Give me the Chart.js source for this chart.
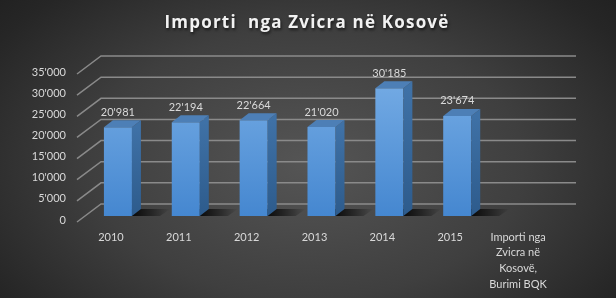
<!DOCTYPE html>
<html><head><meta charset="utf-8">
<script src="https://cdn.jsdelivr.net/npm/chart.js@4/dist/chart.umd.min.js"></script>
<style>
html,body{margin:0;padding:0;background:#222;}
#wrap{width:616px;height:298px;position:relative;overflow:hidden;
background:radial-gradient(ellipse 70% 90% at 50% 55%, #555555 0%, #3f3f3f 50%, #262626 85%, #1f1f1f 100%);}
canvas{display:block}
</style></head><body>
<div id="wrap"><canvas id="c" width="616" height="298"></canvas></div>
<script>
// ---- data ----
const categories = ['2010', '2011', '2012', '2013', '2014', '2015', ['Importi nga', 'Zvicra në', 'Kosovë,', 'Burimi BQK']];
const importValues = [20981, 22194, 22664, 21020, 30185, 23674, null];
const yMin = 0;
const yMax = 35000;
const yStep = 5000;
const titleText = 'Importi  nga Zvicra në Kosovë';

// ---- helpers ----
function fmt(v) { return String(v).replace(/\B(?=(\d{3})+(?!\d))/g, "'"); }

const DX = 9, DY = 7;           // bar depth
const GX1 = -7, GY1 = 6;        // front end of floor diagonal
const GX2 = 17, GY2 = -12;      // back wall offset

const titlePlugin = {
  id: 'titleSpaced',
  afterDraw(chart) {
    const ctx = chart.ctx;
    ctx.save();
    ctx.font = 'bold 17px "Open Sans"';
    ctx.letterSpacing = '1.2px';
    ctx.textAlign = 'center';
    ctx.textBaseline = 'middle';
    ctx.shadowColor = 'rgba(0,0,0,0.6)';
    ctx.shadowBlur = 3;
    ctx.shadowOffsetX = 1;
    ctx.shadowOffsetY = 2;
    ctx.fillStyle = '#f2f2f2';
    ctx.fillText(titleText, 307, 23);
    ctx.restore();
  }
};

const grid3d = {
  id: 'grid3d',
  beforeDatasetsDraw(chart) {
    const ctx = chart.ctx, a = chart.chartArea, ys = chart.scales.y;
    ctx.save();
    ctx.strokeStyle = '#8a8a8a';
    ctx.lineWidth = 1.5;
    ys.ticks.forEach(t => {
      const py = ys.getPixelForValue(t.value);
      ctx.beginPath();
      ctx.moveTo(a.left + GX1, py + GY1);
      ctx.lineTo(a.left + GX2, py + GY2);
      ctx.lineTo(a.right + GX2, py + GY2);
      ctx.stroke();
    });
    // floor shadows
    const meta = chart.getDatasetMeta(0);
    meta.data.forEach((bar, i) => {
      if (importValues[i] == null) return;
      const p = bar.getProps(['x', 'y', 'base', 'width'], true);
      const x1 = p.x - p.width / 2, x2 = p.x + p.width / 2, b = p.base;
      const g = ctx.createLinearGradient(x2, 0, x2 + 38, 0);
      g.addColorStop(0, 'rgba(0,0,0,0.85)');
      g.addColorStop(0.5, 'rgba(0,0,0,0.45)');
      g.addColorStop(1, 'rgba(0,0,0,0)');
      ctx.fillStyle = g;
      ctx.beginPath();
      ctx.moveTo(x1 + 2, b);
      ctx.lineTo(x2 + 28, b);
      ctx.lineTo(x2 + 38, b - DY);
      ctx.lineTo(x1 + 11, b - DY);
      ctx.closePath();
      ctx.fill();
    });
    ctx.restore();
  },
  afterDatasetsDraw(chart) {
    const ctx = chart.ctx;
    const meta = chart.getDatasetMeta(0);
    ctx.save();
    meta.data.forEach((bar, i) => {
      const v = importValues[i];
      if (v == null) return;
      const p = bar.getProps(['x', 'y', 'base', 'width'], true);
      const x1 = p.x - p.width / 2, x2 = p.x + p.width / 2, y = p.y, b = p.base;
      // side face
      const gs = ctx.createLinearGradient(0, y, 0, b);
      gs.addColorStop(0, '#3f71a6');
      gs.addColorStop(1, '#2d5b8c');
      ctx.fillStyle = gs;
      ctx.beginPath();
      ctx.moveTo(x2, y); ctx.lineTo(x2 + DX, y - DY); ctx.lineTo(x2 + DX, b - DY); ctx.lineTo(x2, b);
      ctx.closePath(); ctx.fill();
      // top face
      ctx.fillStyle = '#4d7fb6';
      ctx.beginPath();
      ctx.moveTo(x1, y); ctx.lineTo(x2, y); ctx.lineTo(x2 + DX, y - DY); ctx.lineTo(x1 + DX, y - DY);
      ctx.closePath(); ctx.fill();
      // value label
      ctx.fillStyle = '#d9d9d9';
      ctx.font = '11px Lato';
      ctx.textAlign = 'center';
      ctx.textBaseline = 'middle';
      ctx.fillText(fmt(v), p.x, y - 15);
    });
    ctx.restore();
  }
};

new Chart(document.getElementById('c'), {
  type: 'bar',
  data: {
    labels: categories,
    datasets: [{
      label: titleText,
      data: importValues,
      categoryPercentage: 1,
      barPercentage: 0.413,
      borderWidth: 0,
      backgroundColor(ctx) {
        const a = ctx.chart.chartArea;
        if (!a) return '#5b9bd5';
        const g = ctx.chart.ctx.createLinearGradient(0, a.top, 0, a.bottom);
        g.addColorStop(0, '#78aee6');
        g.addColorStop(1, '#4587d0');
        return g;
      }
    }]
  },
  options: {
    responsive: false,
    animation: false,
    layout: { padding: { left: 0, right: 57, top: 68, bottom: 0 } },
    plugins: {
      legend: { display: false },
      tooltip: { enabled: false },
      title: { display: false }
    },
    scales: {
      x: {
        grid: { display: false, drawTicks: false },
        border: { display: false },
        ticks: {
          color: '#d9d9d9',
          font: { family: 'Lato', size: 11, lineHeight: 1.45 },
          padding: 13,
          labelOffset: -7,
          maxRotation: 0,
          autoSkip: false
        },
        afterFit(s) { s.height = 82; }
      },
      y: {
        min: yMin,
        max: yMax,
        grid: { display: false, drawTicks: false },
        border: { display: false },
        ticks: {
          stepSize: yStep,
          color: '#d9d9d9',
          font: { family: 'Lato', size: 11 },
          padding: 18,
          labelOffset: 4,
          callback: v => fmt(v)
        },
        afterFit(s) { s.width = 84; }
      }
    }
  },
  plugins: [grid3d, titlePlugin]
});
</script>
</body></html>
